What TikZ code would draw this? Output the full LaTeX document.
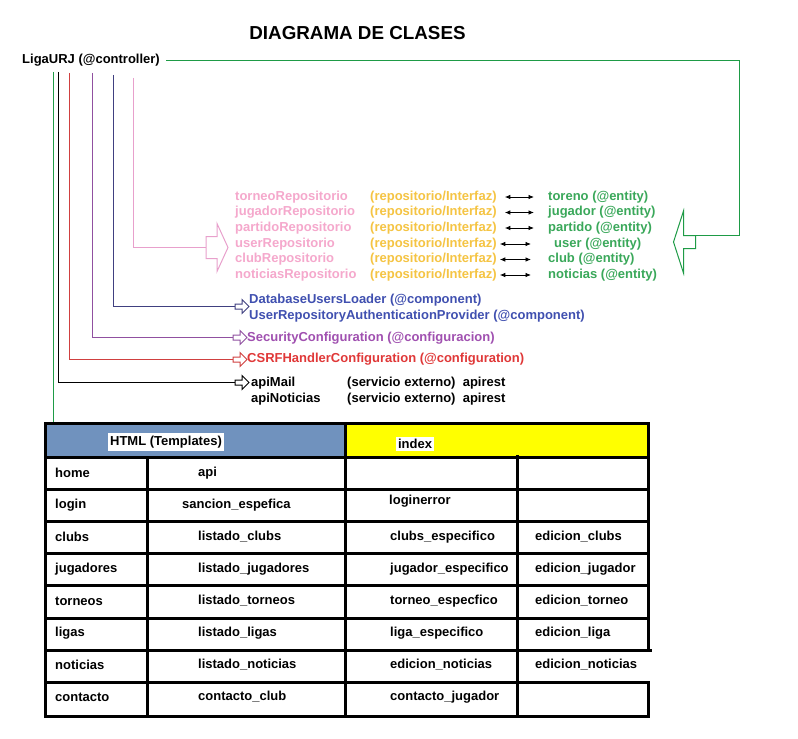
\documentclass[tikz,border=0pt]{standalone}
\usepackage{fontspec}
\setmainfont{Liberation Sans}
\usetikzlibrary{arrows.meta,calc}
\definecolor{grline}{RGB}{30,155,70}
\definecolor{gtext}{HTML}{3AA85A}
\definecolor{ptext}{HTML}{F5A8CC}
\definecolor{pline}{HTML}{E8A0CC}
\definecolor{ytext}{HTML}{F5C443}
\definecolor{ntext}{HTML}{4050B0}
\definecolor{nline}{HTML}{404080}
\definecolor{vtext}{HTML}{A050B0}
\definecolor{vline}{HTML}{9050A0}
\definecolor{rtext}{HTML}{E03838}
\definecolor{rline}{HTML}{D04040}
\definecolor{hblue}{HTML}{7092BE}
\definecolor{hyellow}{HTML}{FFFF00}
\begin{document}
\begin{tikzpicture}[x=1pt,y=-1pt,
  txt/.style={anchor=west,inner sep=0pt,font=\bfseries\fontsize{13}{15}\selectfont},
  conn/.style={line width=1pt},
  tline/.style={line width=3pt},
  smallarrow/.pic={\draw[line width=1pt] (0,-2.5) -- (7,-2.5) -- (7,-7) -- (14,0) -- (7,7) -- (7,2.5) -- (0,2.5) -- cycle;},
  pinkarrow/.pic={\draw[draw=pline,line width=1pt] (0,-11) -- (11,-11) -- (11,-24) -- (22,0) -- (11,24) -- (11,11) -- (0,11) -- cycle;},
  greenarrow/.pic={\draw[draw=grline,line width=1pt] (0,0) -- (-12,0) -- (-12,-24.5) -- (-22,6.5) -- (-12,37.5) -- (-12,13) -- (0,13) -- cycle;},
  dbl/.style={line width=0.8pt,{Latex[length=5.5pt,width=4.5pt]}-{Latex[length=5.5pt,width=4.5pt]}}
]
\useasboundingbox (0,0) rectangle (798,739);
\fill[white] (0,0) rectangle (798,739);

% title
\node[font=\bfseries\fontsize{18.8}{21}\selectfont,inner sep=0pt] (title) at (357.5,33) {DIAGRAMA DE CLASES};

% controller
\node[txt] (liga) at (22,60.5) {LigaURJ (@controller)};

% repositories
\foreach \n/\t/\y in {1/torneoRepositorio/197,2/jugadorRepositorio/212.5,3/partidoRepositorio/228,4/userRepositorio/244,5/clubRepositorio/259.5,6/noticiasRepositorio/275}{
  \node[txt,text=ptext] (r\n) at (235,\y) {\t};
  \node[txt,text=ytext] (i\n) at (370,\y) {(repositorio/Interfaz)};
}
\node[txt,text=gtext] (e1) at (548,197) {toreno (@entity)};
\node[txt,text=gtext] (e2) at (548,212.5) {jugador (@entity)};
\node[txt,text=gtext] (e3) at (548,228) {partido (@entity)};
\node[txt,text=gtext] (e4) at (554,244) {user (@entity)};
\node[txt,text=gtext] (e5) at (548,259.5) {club (@entity)};
\node[txt,text=gtext] (e6) at (548,275) {noticias (@entity)};
\draw[dbl] ([xshift=8pt]i1.east) -- ([xshift=-14pt]e1.west);
\draw[dbl] ([xshift=8pt]i2.east) -- ([xshift=-14pt]e2.west);
\draw[dbl] ([xshift=8pt]i3.east) -- ([xshift=-14pt]e3.west);
\draw[dbl] ([xshift=3pt]i4.east) -- ([xshift=-23pt]e4.west);
\draw[dbl] ([xshift=3pt]i5.east) -- ([xshift=-17pt]e5.west);
\draw[dbl] ([xshift=3pt]i6.east) -- ([xshift=-17pt]e6.west);

% other classes
\node[txt,text=ntext] (db) at (249,300) {DatabaseUsersLoader (@component)};
\node[txt,text=ntext] (urap) at (249,316) {UserRepositoryAuthenticationProvider (@component)};
\node[txt,text=vtext] (sec) at (247,338) {SecurityConfiguration (@configuracion)};
\node[txt,text=rtext] (csrf) at (247,359.5) {CSRFHandlerConfiguration (@configuration)};
\node[txt] (mail) at (251,383) {apiMail};
\node[txt] (noti) at (251,399) {apiNoticias};
\node[txt] (mails) at (347,383) {(servicio externo)\ \ apirest};
\node[txt] (notis) at (347,399) {(servicio externo)\ \ apirest};

% arrow anchors
\coordinate (pa) at (206,247.5);
\coordinate (ga) at (695.5,235.5);
\coordinate (na) at (235,306.5);
\coordinate (va) at (233,337.5);
\coordinate (ra) at (233,359.5);
\coordinate (ka) at (235,382.5);
\coordinate (tbl) at (45,423);

\pic at (pa) {pinkarrow};
\pic at (ga) {greenarrow};
\pic[draw=nline] at (na) {smallarrow};
\pic[draw=vline] at (va) {smallarrow};
\pic[draw=rline] at (ra) {smallarrow};
\pic[draw=black] at (ka) {smallarrow};

% connectors
\draw[conn,color=grline] ([xshift=6pt]liga.east) -| ([xshift=44pt]ga) -- (ga);
\draw[conn,color=grline] ([shift={(31.5,5)}]liga.south west) -- ([xshift=8.5pt]tbl);
\draw[conn,draw=black] ([shift={(36.5,5)}]liga.south west) |- (ka);
\draw[conn,draw=rline] ([shift={(47.5,6)}]liga.south west) |- (ra);
\draw[conn,draw=vline] ([shift={(70.5,6)}]liga.south west) |- (va);
\draw[conn,draw=nline] ([shift={(91.5,8)}]liga.south west) |- (na);
\draw[conn,draw=pline] ([shift={(111.5,11)}]liga.south west) |- (pa);

% table
\fill[hblue] (45,423) rectangle (345,457);
\fill[hyellow] (345,423) rectangle (648,457);
\node[txt,fill=white,inner sep=2.5pt,anchor=center] (hhtml) at (166,442) {HTML (Templates)};
\node[txt,fill=white,inner sep=2.5pt,anchor=center] (hidx) at (415,444) {index};
\foreach \y in {457,489,521,553,585,618,682}{
  \draw[tline] (45,\y) -- (648,\y);
}
\draw[tline] (45,650) -- (652,650);
\draw[tline,line cap=rect] (45,423) -- (648,423);
\draw[tline,line cap=rect] (45,716) -- (648,716);
\draw[tline,line cap=rect] (45,423) -- (45,716);
\draw[tline,line cap=rect] (648,423) -- (648,650);
\draw[tline,line cap=rect] (648,682) -- (648,716);
\draw[tline] (147,457) -- (147,716);
\draw[tline] (345,423) -- (345,716);
\draw[tline] (517,455) -- (517,716);

% table text
\foreach \n/\a/\b/\c/\d/\y in {
  1/home/api//{}/473,
  3/clubs/listado\_clubs/clubs\_especifico/edicion\_clubs/537,
  4/jugadores/listado\_jugadores/jugador\_especifico/edicion\_jugador/569,
  5/torneos/listado\_torneos/torneo\_especfico/edicion\_torneo/601,
  6/ligas/listado\_ligas/liga\_especifico/edicion\_liga/633,
  7/noticias/listado\_noticias/edicion\_noticias/edicion\_noticias/665,
  8/contacto/contacto\_club/contacto\_jugador/{}/697}{
  \node[txt] (a\n) at (55,\y) {\a};
  \node[txt] (b\n) at (198,\y) {\b};
  \node[txt] (c\n) at (390,\y) {\c};
  \node[txt] (d\n) at (535,\y) {\d};
}
\node[txt] (a2) at (55,505) {login};
\node[txt] (b2) at (182,505) {sancion\_espefica};
\node[txt] (c2) at (389,501) {loginerror};
\end{tikzpicture}
\end{document}
